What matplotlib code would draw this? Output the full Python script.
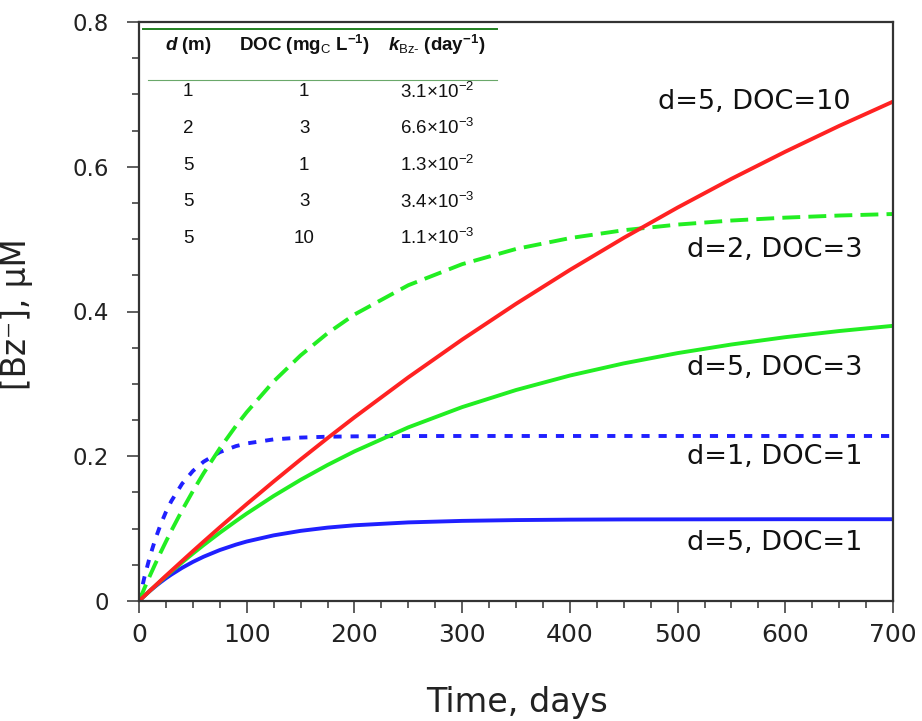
import matplotlib
matplotlib.use('Agg')
import matplotlib.pyplot as plt
from matplotlib.ticker import MultipleLocator, FixedLocator, FixedFormatter

# ---------------- data ----------------
time_days = [0, 5, 10, 15, 20, 25, 30, 40, 50, 60, 75, 90, 100, 125, 150, 175,
             200, 250, 300, 350, 400, 450, 500, 550, 600, 650, 700]

d5_doc10 = [0, 0.0070, 0.0141, 0.0210, 0.0280, 0.0349, 0.0417, 0.0553, 0.0688, 0.0821,
            0.1018, 0.1211, 0.1339, 0.1651, 0.1955, 0.2250, 0.2538, 0.3090, 0.3612,
            0.4106, 0.4574, 0.5017, 0.5436, 0.5833, 0.6208, 0.6564, 0.6900]
d2_doc3 = [0, 0.0175, 0.0345, 0.0509, 0.0668, 0.0821, 0.0970, 0.1253, 0.1518, 0.1766,
           0.2108, 0.2419, 0.2609, 0.3034, 0.3393, 0.3699, 0.3958, 0.4363, 0.4654,
           0.4864, 0.5014, 0.5123, 0.5201, 0.5257, 0.5297, 0.5326, 0.5347]
d5_doc3 = [0, 0.0071, 0.0140, 0.0208, 0.0275, 0.0341, 0.0406, 0.0533, 0.0655, 0.0773,
           0.0943, 0.1104, 0.1208, 0.1451, 0.1674, 0.1879, 0.2067, 0.2399, 0.2679,
           0.2915, 0.3115, 0.3283, 0.3425, 0.3544, 0.3645, 0.3730, 0.3802]
d1_doc1 = [0, 0.0327, 0.0608, 0.0848, 0.1054, 0.1230, 0.1380, 0.1620, 0.1796, 0.1925,
           0.2057, 0.2140, 0.2177, 0.2233, 0.2258, 0.2270, 0.2275, 0.2279, 0.2280,
           0.2280, 0.2280, 0.2280, 0.2280, 0.2280, 0.2280, 0.2280, 0.2280]
d5_doc1 = [0, 0.0071, 0.0138, 0.0200, 0.0259, 0.0314, 0.0365, 0.0458, 0.0540, 0.0612,
           0.0704, 0.0779, 0.0822, 0.0907, 0.0969, 0.1014, 0.1046, 0.1086, 0.1107,
           0.1118, 0.1124, 0.1127, 0.1128, 0.1129, 0.1130, 0.1130, 0.1130]

curve_labels = ["d=5, DOC=10", "d=2, DOC=3", "d=5, DOC=3", "d=1, DOC=1", "d=5, DOC=1"]
label_x = [482, 509, 509, 509, 509]
label_y = [0.689, 0.485, 0.322, 0.199, 0.080]

table_header = [r"$d$ (m)", r"DOC (mg$_{\mathrm{C}}$ L$^{\mathbf{-1}}$)",
                r"$k_{\mathrm{Bz‐}}$ (day$^{\mathbf{-1}}$)"]
table_d = ["1", "2", "5", "5", "5"]
table_doc = ["1", "3", "1", "3", "10"]
table_k = [r"3.1×10$^{-2}$", r"6.6×10$^{-3}$", r"1.3×10$^{-2}$",
           r"3.4×10$^{-3}$", r"1.1×10$^{-3}$"]

x_ticks = [0, 100, 200, 300, 400, 500, 600, 700]
y_ticks = [0, 0.2, 0.4, 0.6, 0.8]
y_tick_labels = ["0", "0.2", "0.4", "0.6", "0.8"]

# ---------------- style ----------------
plt.rcParams['font.family'] = ['DejaVu Sans']
plt.rcParams['mathtext.fontset'] = 'custom'
plt.rcParams['mathtext.rm'] = 'Liberation Sans'
plt.rcParams['mathtext.it'] = 'Liberation Sans:italic:bold'
plt.rcParams['mathtext.bf'] = 'Liberation Sans:bold'

RED = '#ff2222'
GREEN = '#22ee22'
BLUE = '#2020ff'
LW = 2.8

fig = plt.figure(figsize=(9.22, 7.21), dpi=100)
ax = fig.add_axes([139 / 922, 120 / 721, 754 / 922, 579 / 721])

ax.plot(time_days, d5_doc1, color=BLUE, lw=LW, solid_capstyle='butt')
ax.plot(time_days, d1_doc1, color=BLUE, lw=LW, dashes=(2.1, 2.3), dash_capstyle='butt')
ax.plot(time_days, d5_doc3, color=GREEN, lw=LW, solid_capstyle='butt')
ax.plot(time_days, d2_doc3, color=GREEN, lw=LW, dashes=(4.6, 2.1), dash_capstyle='butt')
ax.plot(time_days, d5_doc10, color=RED, lw=LW, solid_capstyle='butt')

for txt, lx, ly in zip(curve_labels, label_x, label_y):
    ax.text(lx, ly, txt, fontsize=19.5, ha='left', va='center', color='#111111')

ax.set_xlim(0, 700)
ax.set_ylim(0, 0.8)
ax.xaxis.set_major_locator(FixedLocator(x_ticks))
ax.xaxis.set_minor_locator(MultipleLocator(25))
ax.yaxis.set_major_locator(FixedLocator(y_ticks))
ax.yaxis.set_major_formatter(FixedFormatter(y_tick_labels))
ax.yaxis.set_minor_locator(MultipleLocator(0.05))

for sp in ax.spines.values():
    sp.set_linewidth(1.6)
    sp.set_color('#333333')

ax.tick_params(axis='both', which='both', direction='out', top=False, right=False,
               color='#333333')
ax.tick_params(axis='both', which='major', length=8.6, width=1.1)
ax.tick_params(axis='both', which='minor', length=5, width=1.1)
ax.tick_params(axis='x', which='major', labelsize=18, pad=7, labelcolor='#222222')
ax.tick_params(axis='y', which='major', labelsize=16.5, pad=13, labelcolor='#222222')

ax.set_xlabel("Time, days", fontsize=24, color='#222222')
ax.set_ylabel("[Bz⁻], μM", fontsize=23.5, color='#222222')
ax.xaxis.set_label_coords(0.501, -0.146)
ax.yaxis.set_label_coords(-0.141, 0.496)

# ---------------- inset table ----------------
col_x = [0.065, 0.219, 0.395]
header_y = 0.960
row_y = [0.880, 0.8165, 0.753, 0.690, 0.6265]
ax.plot([0.005, 0.475], [0.9874, 0.9874], transform=ax.transAxes, color='#1f7f1f',
        lw=1.4, clip_on=False)
ax.plot([0.012, 0.475], [0.900, 0.900], transform=ax.transAxes, color='#6aa86a',
        lw=0.8, clip_on=False)
for cx, h in zip(col_x, table_header):
    ax.text(cx, header_y, h, transform=ax.transAxes, ha='center', va='center',
            fontsize=13.5, fontweight='bold', family='Liberation Sans', color='#111111')
for ry, a, b, c in zip(row_y, table_d, table_doc, table_k):
    for cx, s in zip(col_x, (a, b, c)):
        ax.text(cx, ry, s, transform=ax.transAxes, ha='center', va='center',
                fontsize=13.5, family='Liberation Sans', color='#111111')

fig.savefig('out.png', dpi=100)
